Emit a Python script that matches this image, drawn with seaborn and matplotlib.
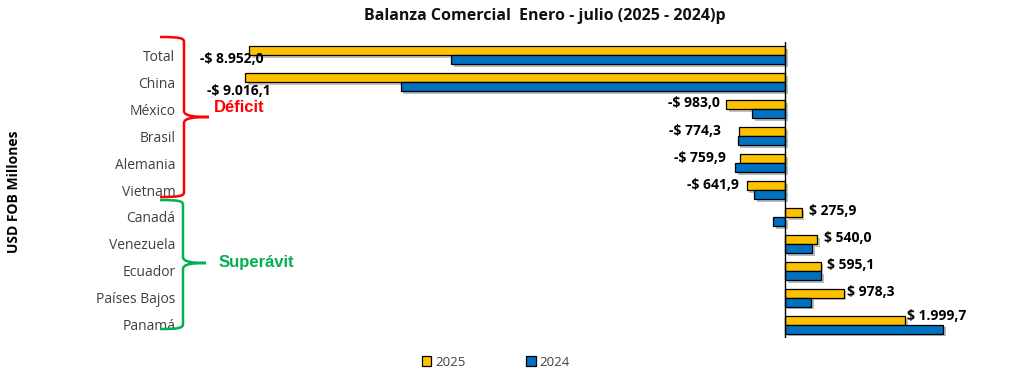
import pandas as pd
import matplotlib.pyplot as plt
import matplotlib.patheffects as pe
from matplotlib.patches import Patch, PathPatch
from matplotlib.path import Path
import seaborn as sns

# data (USD FOB millones)
countries = ['Total', 'China', 'México', 'Brasil', 'Alemania', 'Vietnam',
             'Canadá', 'Venezuela', 'Ecuador', 'Países Bajos', 'Panamá']
val_2025 = [-8952.0, -9016.1, -983.0, -774.3, -759.9, -641.9,
            275.9, 540.0, 595.1, 978.3, 1999.7]
val_2024 = [-5580, -6420, -550, -790, -830, -520,
            -195, 450, 605, 430, 2640]
years = ['2025', '2024']
colors = ['#FFC000', '#0070C0']

# label offsets (data units, rows)
lab_dx = [250, 420, -100, -300, -230, -130, 120, 110, 100, 50, 30]
lab_dy = [0.12, 0.33, -0.22, -0.2, -0.2, -0.2, -0.22, -0.2, -0.2, -0.22, -0.32]


def fmt(v):
    s = '{:,.1f}'.format(abs(v)).replace(',', 'X').replace('.', ',').replace('X', '.')
    return ('-$ ' if v < 0 else '$ ') + s


df = pd.DataFrame({
    'pais': countries * 2,
    'valor': val_2025 + val_2024,
    'anio': [years[0]] * len(countries) + [years[1]] * len(countries),
})

sns.set_style('white')
plt.rcParams['font.family'] = ['Open Sans', 'DejaVu Sans']

fig = plt.figure(figsize=(10.24, 3.8), dpi=100)
ax = fig.add_axes([185 / 1024, 1 - 338 / 380, (960 - 185) / 1024, 296 / 380])

sns.barplot(data=df, y='pais', x='valor', hue='anio', hue_order=years,
            palette=colors, saturation=1, orient='h', width=0.67, edgecolor='black',
            linewidth=0.9, legend=False, ax=ax)

for p in ax.patches:
    p.set_path_effects([pe.SimplePatchShadow(offset=(2, -2), alpha=0.3), pe.Normal()])

ax.set_xlim(-10020, 2922)
ax.set_ylim(10.5, -0.5)
ax.axvline(0, color='black', lw=1.0, zorder=5)
for s in ax.spines.values():
    s.set_visible(False)
ax.set_xticks([])
ax.set_xlabel('')
ax.set_ylabel('')
ax.tick_params(axis='y', length=0, pad=7, labelsize=10, labelcolor='#404040')

for i, v in enumerate(val_2025):
    ha = 'right' if (v < 0) else 'left'
    ax.text(v + lab_dx[i], i + lab_dy[i], fmt(v), ha=ha, va='center',
            fontsize=10, fontweight='bold', color='black', zorder=6)

fig.text(545 / 1024, 1 - 16 / 380, 'Balanza Comercial  Enero - julio (2025 - 2024)p',
         ha='center', va='center', fontsize=11.5, fontweight='bold', color='#111111')
fig.text(14 / 1024, 1 - 192 / 380, 'USD FOB Millones', rotation=90, ha='center', va='center',
         fontsize=10, fontweight='bold', color='black')


def brace(x0, xv, xt, y0, y1, ym, color):
    W, H = 1024, 380
    pts = [(x0, y0), (xv - 4, y0), (xv, y0 + 1), (xv, y0 + 5),
           (xv, ym - 6),
           (xv, ym - 1), (xv + 10, ym), (xt, ym),
           (xv + 10, ym), (xv, ym + 1), (xv, ym + 6),
           (xv, y1 - 5),
           (xv, y1 - 1), (xv - 4, y1), (x0, y1)]
    codes = [Path.MOVETO, Path.CURVE4, Path.CURVE4, Path.CURVE4,
             Path.LINETO,
             Path.CURVE4, Path.CURVE4, Path.CURVE4,
             Path.CURVE4, Path.CURVE4, Path.CURVE4,
             Path.LINETO,
             Path.CURVE4, Path.CURVE4, Path.CURVE4]
    verts = [(x / W, 1 - y / H) for x, y in pts]
    fig.add_artist(PathPatch(Path(verts, codes), fc='none', ec=color, lw=1.8,
                             transform=fig.transFigure))


brace(160, 184, 209, 37, 197, 117, '#FF0000')
brace(160, 183, 206, 200, 329, 263, '#00B050')
fig.text(214 / 1024, 1 - 108 / 380, 'Déficit', ha='left', va='center',
         fontsize=12, fontweight='bold', color='#FF0000', family=['Liberation Sans', 'DejaVu Sans'])
fig.text(219 / 1024, 1 - 262 / 380, 'Superávit', ha='left', va='center',
         fontsize=12, fontweight='bold', color='#00B050', family=['Liberation Sans', 'DejaVu Sans'])

handles = [Patch(facecolor=c, edgecolor='black', lw=0.9) for c in colors]
fig.legend(handles, years, loc='center', bbox_to_anchor=(496 / 1024, 1 - 362 / 380),
           ncol=2, frameon=False, columnspacing=4.6, handlelength=0.7, handleheight=0.7,
           handletextpad=0.3, fontsize=9.5, labelcolor='#404040')

fig.savefig('out.png', dpi=100)
